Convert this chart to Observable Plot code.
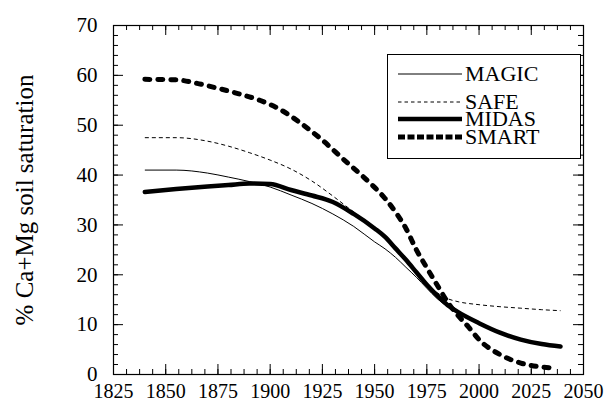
<!DOCTYPE html>
<html>
<head>
<meta charset="utf-8">
<script src="https://cdn.jsdelivr.net/npm/d3@7"></script>
<script src="https://cdn.jsdelivr.net/npm/@observablehq/plot@0.6"></script>
<style>
  html, body { margin: 0; padding: 0; background: #fff; }
  #wrap { position: relative; width: 606px; height: 411px; font-family: "Liberation Serif", serif; }
  #legend { position: absolute; left: 387px; top: 54px; width: 194px; height: 105px; border: 1px solid #000; background: #fff; box-sizing: border-box; }
  .row { position: absolute; left: 0; height: 16px; display: flex; align-items: center; }
  .row svg { margin-left: 10px; margin-right: 3px; }
  .row span { font-size: 22px; line-height: 16px; color: #000; }
  #ytitle { position: absolute; left: 25px; top: 200px; transform: translate(-50%, -50%) rotate(-90deg); white-space: nowrap; font-size: 25px; color: #000; }
</style>
</head>
<body>
<div id="wrap"></div>
<script>
// ---- data ----
const years = [1840, 1855, 1870, 1880, 1890, 1900, 1910, 1920, 1930, 1940, 1950, 1955, 1960, 1965, 1970, 1975, 1980, 1985, 1990, 2000, 2010, 2020, 2030, 2039];
const magic = [41.0, 41.0, 40.4, 39.6, 38.7, 37.6, 36.0, 34.3, 32.2, 29.7, 26.6, 25.2, 23.5, 21.5, 19.5, 17.3, 15.2, 13.6, 12.3, 10.2, 8.3, 6.9, 6.0, 5.5];
const safe  = [47.5, 47.5, 46.8, 45.8, 44.5, 43.0, 41.2, 38.8, 35.8, 32.6, 29.6, 27.9, 25.6, 23.3, 20.8, 18.4, 16.4, 15.2, 14.6, 14.0, 13.6, 13.3, 13.0, 12.8];
const midas = [36.6, 37.2, 37.7, 38.0, 38.3, 38.2, 37.0, 35.9, 34.6, 32.2, 29.3, 27.6, 25.3, 23.0, 20.5, 18.0, 15.8, 13.9, 12.5, 10.3, 8.4, 7.0, 6.1, 5.6];
const smartYears = [1840, 1855, 1865, 1875, 1885, 1895, 1905, 1915, 1925, 1935, 1945, 1955, 1960, 1965, 1970, 1975, 1980, 1985, 1990, 1995, 2000, 2010, 2020, 2030, 2036];
const smart = [59.2, 59.1, 58.4, 57.4, 56.3, 55.0, 53.1, 50.3, 47.0, 43.2, 39.5, 35.3, 32.6, 29.3, 25.0, 21.4, 17.9, 14.5, 11.8, 9.5, 7.0, 4.0, 2.3, 1.5, 1.3];

const seriesNames = ["MAGIC", "SAFE", "MIDAS", "SMART"];
const xMajor = d3.range(1825, 2051, 25);
const xMinor = d3.range(1825, 2051, 6.25);
const yMajor = d3.range(0, 71, 10);
const yMinor = d3.range(0, 71, 2);
const yTitle = "% Ca+Mg soil saturation";

// ---- styles ----
const styles = {
  MAGIC: {strokeWidth: 1, dash: "none", cap: "butt", legendDash: "none"},
  SAFE:  {strokeWidth: 1, dash: "4,3", cap: "butt", legendDash: "3.5,3"},
  MIDAS: {strokeWidth: 4.5, dash: "none", cap: "round", legendDash: "none"},
  SMART: {strokeWidth: 5, dash: "5,8", cap: "round", legendDash: "7,2.5"}
};

const rows = [];
years.forEach((yr, i) => {
  rows.push({series: "MAGIC", year: yr, value: magic[i]});
  rows.push({series: "SAFE", year: yr, value: safe[i]});
  rows.push({series: "MIDAS", year: yr, value: midas[i]});
});
smartYears.forEach((yr, i) => rows.push({series: "SMART", year: yr, value: smart[i]}));

const W = 606, H = 411, mL = 113, mR = 23, mT = 25, mB = 37;
const fw = W - mL - mR, fh = H - mT - mB;

const lineMarks = seriesNames.map(s => Plot.line(rows.filter(d => d.series === s), {
  x: "year", y: "value", stroke: "#000",
  strokeWidth: styles[s].strokeWidth,
  strokeDasharray: styles[s].dash,
  strokeLinecap: styles[s].cap,
  curve: "monotone-x"
}));

const chart = Plot.plot({
  width: W, height: H,
  marginLeft: mL, marginRight: mR, marginTop: mT, marginBottom: mB,
  style: {fontFamily: "Liberation Serif", fontSize: "20px", color: "#000", background: "#fff"},
  x: {domain: [1825, 2050]},
  y: {domain: [0, 70]},
  marks: [
    ...lineMarks,
    Plot.frame({stroke: "#000", strokeWidth: 1.2}),
    // inward ticks on all four sides
    Plot.tickX(xMajor, {x: d => d, insetTop: fh - 10, stroke: "#000"}),
    Plot.tickX(xMinor, {x: d => d, insetTop: fh - 5, stroke: "#000"}),
    Plot.tickX(xMajor, {x: d => d, insetBottom: fh - 10, stroke: "#000"}),
    Plot.tickX(xMinor, {x: d => d, insetBottom: fh - 5, stroke: "#000"}),
    Plot.tickY(yMajor, {y: d => d, insetRight: fw - 10, stroke: "#000"}),
    Plot.tickY(yMinor, {y: d => d, insetRight: fw - 5, stroke: "#000"}),
    Plot.tickY(yMajor, {y: d => d, insetLeft: fw - 10, stroke: "#000"}),
    Plot.tickY(yMinor, {y: d => d, insetLeft: fw - 5, stroke: "#000"}),
    Plot.axisX(xMajor, {anchor: "bottom", tickSize: 0, tickPadding: 9, fontSize: 20, tickFormat: d => String(d), label: null}),
    Plot.axisY(yMajor, {anchor: "left", tickSize: 0, tickPadding: 16, fontSize: 21, tickFormat: d => String(d), label: null})
  ]
});

// make sure line dash styles are applied as intended
d3.select(chart).selectAll('g[aria-label="line"]').each(function(_, i) {
  const st = styles[seriesNames[i]];
  d3.select(this).selectAll("path")
    .attr("stroke-dasharray", st.dash)
    .attr("stroke-linecap", st.cap);
});

const wrap = document.getElementById("wrap");
wrap.appendChild(chart);

// y-axis title
const yt = document.createElement("div");
yt.id = "ytitle";
yt.textContent = yTitle;
wrap.appendChild(yt);

// legend (inside the plot, top-right)
const legend = document.createElement("div");
legend.id = "legend";
const rowTops = [11, 39, 56, 74];
seriesNames.forEach((s, i) => {
  const r = document.createElement("div");
  r.className = "row";
  r.style.top = rowTops[i] + "px";
  const st = styles[s];
  r.innerHTML = `<svg width="64" height="16"><line x1="0" x2="64" y1="8" y2="8" stroke="#000" stroke-width="${st.strokeWidth}" stroke-dasharray="${st.legendDash}" stroke-linecap="butt"/></svg><span>${s}</span>`;
  legend.appendChild(r);
});
wrap.appendChild(legend);
</script>
</body>
</html>
